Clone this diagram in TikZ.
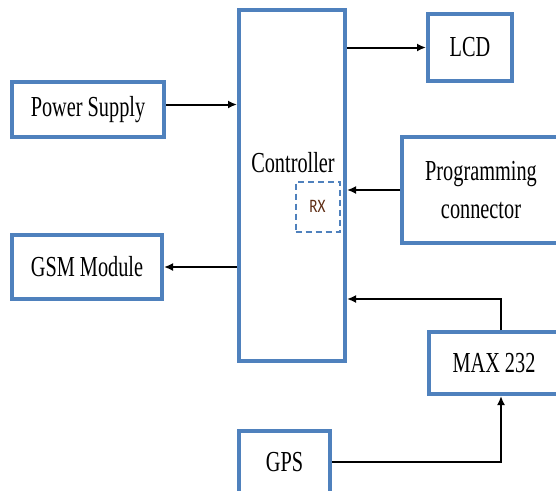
\documentclass[tikz,border=0pt]{standalone}
\usepackage{fontspec}
\newfontfamily\boxfont[FakeStretch=0.7]{Liberation Serif}
\newfontfamily\rxfont[FakeStretch=0.8]{Carlito}
\usetikzlibrary{arrows.meta}

\definecolor{boxblue}{HTML}{4F81BD}
\definecolor{rxbrown}{RGB}{95,45,20}

\tikzset{
    block/.style={draw=boxblue, line width=4pt, fill=white, inner sep=0pt,
        align=center, font=\boxfont\fontsize{29}{38}\selectfont},
    rxbox/.style={draw=boxblue, line width=2pt, dash pattern=on 6pt off 4pt,
        inner sep=0pt, text=rxbrown, font=\rxfont\fontsize{19}{22}\selectfont},
    arr/.style={line width=2pt, -{Latex[length=9pt,width=8pt]}}
}

\begin{document}
\begin{tikzpicture}[x=1pt, y=-1pt]

    \clip (0,0) rectangle (556,490);

    \node[block, minimum width=106pt, minimum height=351pt] (ctrl) at (292,185.5) {};
    \node[font=\boxfont\fontsize{29}{30}\selectfont] (ctrltxt) at (293,163) {Controller};
    \node[rxbox, minimum width=44pt, minimum height=50pt] (rx) at (317.5,206.5) {RX};

    \node[block, minimum width=152pt, minimum height=55pt] (power) at (88,109.5) {Power Supply};
    \node[block, minimum width=84pt, minimum height=67pt] (lcd) at (470,47.5) {LCD};
    \node[block, minimum width=158pt, minimum height=106pt] (prog) at (481,190) {Programming\\connector};
    \node[block, minimum width=150pt, minimum height=64pt] (gsm) at (87,267) {GSM Module};
    \node[block, minimum width=130pt, minimum height=62pt] (max) at (494,363) {MAX 232};
    \node[block, minimum width=91pt, minimum height=62pt] (gps) at (284.5,462) {GPS};

    % tap point of the MAX 232 line
    \coordinate (tap) at (501,299);

    \draw[arr] ([yshift=5pt]power.east) -- ([yshift=5pt]power.east -| ctrl.west);

    \draw[arr] (ctrl.east |- lcd.west) -- (lcd.west);

    \draw[arr] (prog.west) -- (prog.west -| ctrl.east);

    \draw[arr] (ctrl.west |- gsm.east) -- (gsm.east);

    \draw[arr] (tap |- max.north) -- (tap) -- (tap -| ctrl.east);

    \draw[arr] (gps.east) -| (tap |- max.south);

\end{tikzpicture}
\end{document}
